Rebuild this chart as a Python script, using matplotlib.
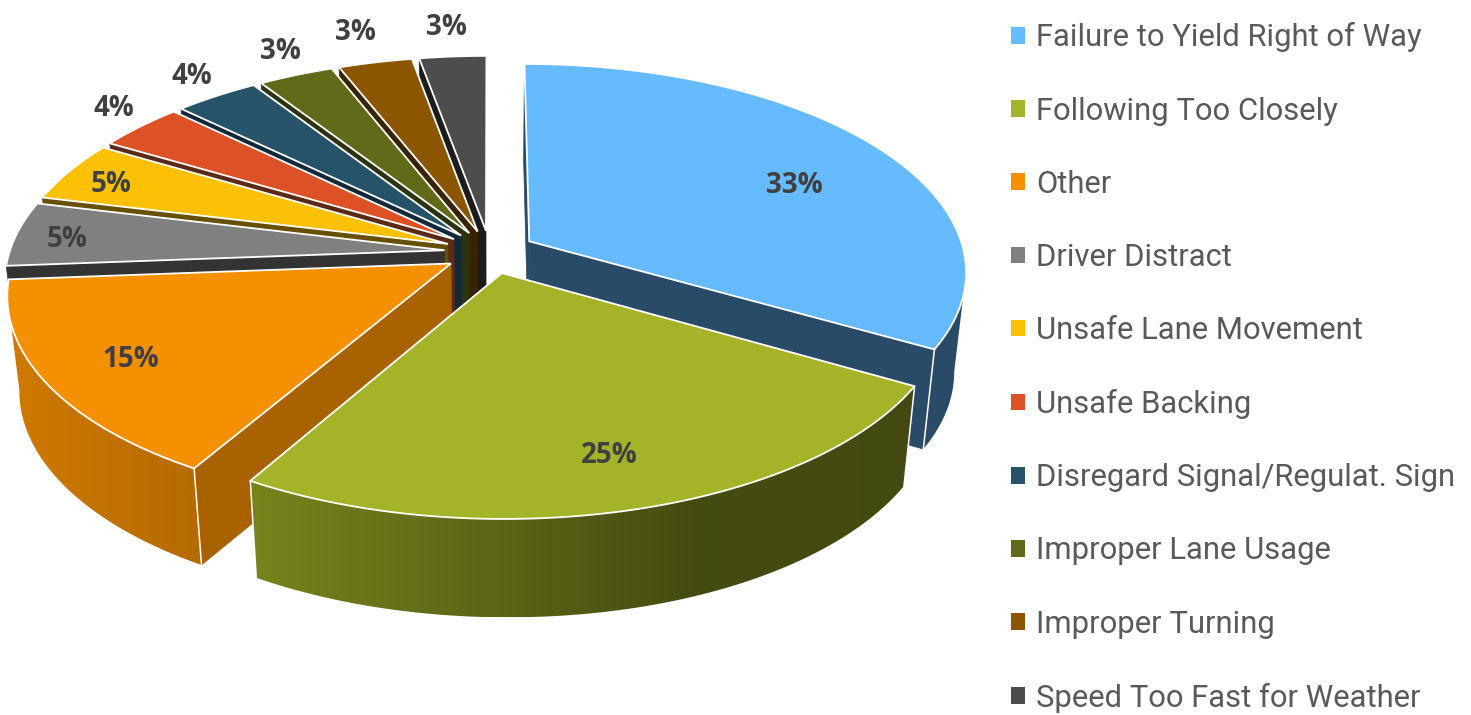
import numpy as np
import matplotlib
matplotlib.use("Agg")
import matplotlib.pyplot as plt
from matplotlib.colors import to_rgb
from matplotlib.patches import Patch, Polygon

categories = [
    "Failure to Yield Right of Way", "Following Too Closely", "Other",
    "Driver Distract", "Unsafe Lane Movement", "Unsafe Backing",
    "Disregard Signal/Regulat. Sign", "Improper Lane Usage",
    "Improper Turning", "Speed Too Fast for Weather",
]
shares = [33.3, 25.1, 15.4, 5.0, 4.7, 3.7, 3.6, 3.2, 3.15, 2.85]

colors = ["#66bbff", "#a4b327", "#f59000", "#808080", "#fcc105",
          "#dc5126", "#265369", "#616a18", "#8c5500", "#4d4d4d"]
side_colors = ["#2a4b68", "#434710", "#a86200", "#333333", "#665000",
               "#5a2a15", "#12293a", "#2b3310", "#3a2400", "#1c1c1c"]

# where each percent label sits: radius (1 = rim) and turn away from the slice middle
label_radius = [0.70, 0.79, 0.81, 0.89, 0.885, 1.145, 1.155, 1.175, 1.225, 1.21]
label_turn = [4.7, -0.1, 0.3, -0.6, -1.2, 2.0, 0.9, 1.0, -0.5, -0.5]

# camera, in output pixels
CX, CY = 490, 252
R, RY, P = 435, 205, 0.14
EXPLODE = 0.105
BOTTOM_DROP, BOTTOM_RY, BOTTOM_RX, BOTTOM_TILT = 97, 206, 0.975, 0.005


def top_xy(u, v):
    s = 1 / (1 + P * v)
    return CX + R * u * s, CY - RY * v * s


def bottom_xy(u, v):
    s = 1 / (1 + P * v)
    x = CX + BOTTOM_RX * R * u * s
    return x, CY + BOTTOM_DROP - BOTTOM_RY * v * s + BOTTOM_TILT * (x - CX)


def wall_shade(x):
    # the light falls off from left to right across the outer wall
    return np.interp(x, [0, 200, 255, 700, 1000], [0.85, 0.74, 0.73, 0.42, 0.41])


fig = plt.figure(figsize=(14.71, 7.15), dpi=100)
ax = fig.add_axes([0, 0, 1, 1])
ax.set_xlim(0, 1471)
ax.set_ylim(715, 0)
ax.axis("off")

edges = np.cumsum([0] + shares) / sum(shares) * 2 * np.pi
mids = (edges[:-1] + edges[1:]) / 2
order = np.argsort(-np.cos(mids))

for rank, i in enumerate(order):
    z = 10 * (rank + 1)
    ou, ov = EXPLODE * np.sin(mids[i]), EXPLODE * np.cos(mids[i])
    th = np.linspace(edges[i], edges[i + 1], 80)
    u = ou + np.sin(th)
    v = ov + np.cos(th)
    tx, ty = top_xy(u, v)
    bx, by = bottom_xy(u, v)
    ax0, ay0 = top_xy(ou, ov)
    bx0, by0 = bottom_xy(ou, ov)

    # only the cut face turned to the viewer is drawn
    faces = []
    if np.sin(edges[i]) <= 1e-9:
        faces.append(0)
    if np.sin(edges[i + 1]) > 1e-9:
        faces.append(-1)
    for k in faces:
        ax.add_patch(Polygon([(ax0, ay0), (tx[k], ty[k]), (bx[k], by[k]), (bx0, by0)],
                             fc=side_colors[i], ec=side_colors[i], lw=0.5, zorder=z))

    # rim with left-to-right gradient, front part only
    front = np.cos(th) < -P
    if front.sum() > 1:
        rim = np.r_[np.c_[tx[front], ty[front]], np.c_[bx[front], by[front]][::-1]]
        xs = np.arange(np.floor(rim[:, 0].min()), np.ceil(rim[:, 0].max()) + 1)
        if i == 0:
            grad = np.tile(np.array(to_rgb(side_colors[0])), (len(xs), 1))
        else:
            grad = np.outer(wall_shade(xs), to_rgb(colors[i]))
        im = ax.imshow(grad[np.newaxis, :, :], aspect="auto", zorder=z + 1,
                       extent=(xs[0], xs[-1], rim[:, 1].max(), rim[:, 1].min()))
        im.set_clip_path(Polygon(rim, transform=ax.transData))
        for k in (0, -1):
            if front[k]:
                ax.plot([tx[k], bx[k]], [ty[k], by[k]], color="white", lw=1.1, zorder=z + 2)

    ax.add_patch(Polygon(np.r_[[(ax0, ay0)], np.c_[tx, ty]],
                         fc=colors[i], ec="white", lw=1.3, joinstyle="miter", zorder=z + 3))

for i, share in enumerate(shares):
    t = mids[i] + np.radians(label_turn[i])
    lu = EXPLODE * np.sin(mids[i]) + label_radius[i] * np.sin(t)
    lv = EXPLODE * np.cos(mids[i]) + label_radius[i] * np.cos(t)
    lx, ly = top_xy(lu, lv)
    ax.text(lx + 4, ly + 2, f"{share:.0f}%", ha="center", va="center", color="#404040",
            fontsize=20, fontweight="bold", family="Open Sans", zorder=500)

handles = [Patch(fc=c, ec="none") for c in colors]
ax.legend(handles, categories, loc="upper left", bbox_to_anchor=(1011, 22.5),
          bbox_transform=ax.transData, frameon=False, borderpad=0, borderaxespad=0,
          handlelength=0.45, handleheight=0.45, handletextpad=0.355, labelspacing=1.425,
          labelcolor="#595959", prop={"family": "Roboto", "size": 22.3}).set_zorder(500)

fig.savefig("out.png", dpi=100)
